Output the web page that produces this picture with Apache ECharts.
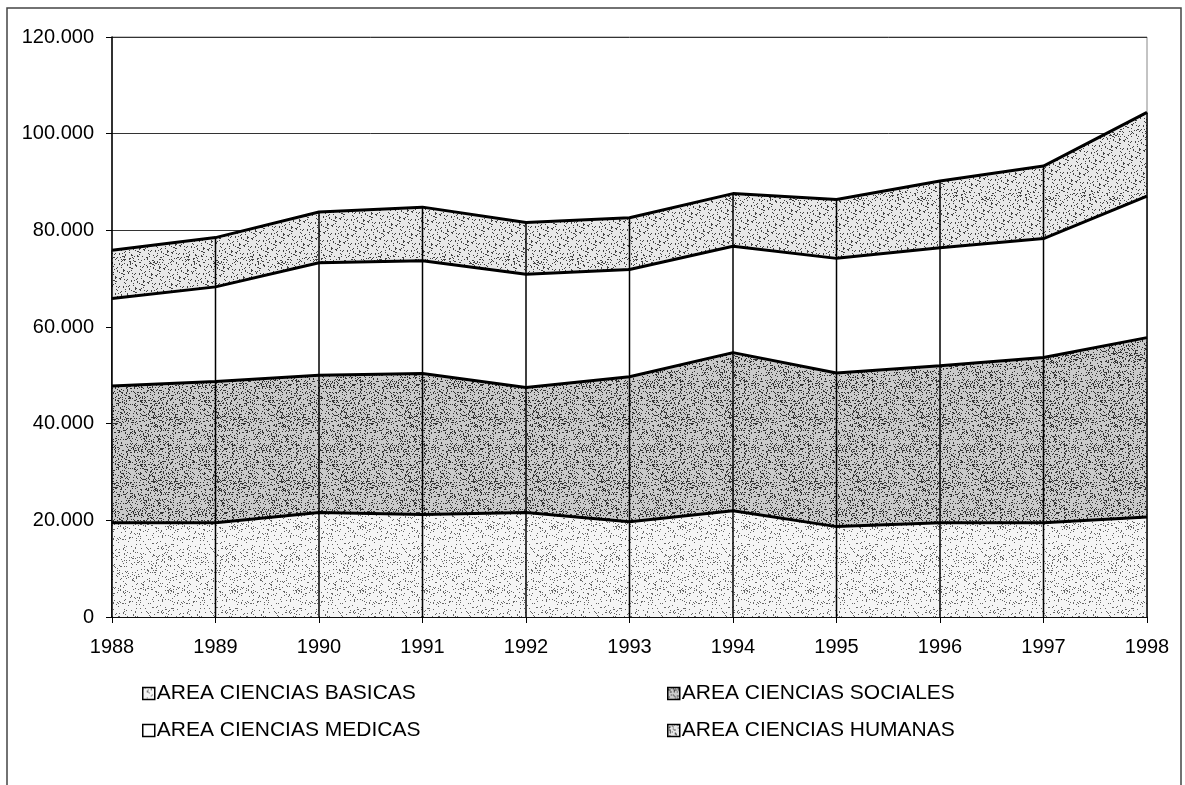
<!DOCTYPE html>
<html>
<head>
<meta charset="utf-8">
<script src="https://cdn.jsdelivr.net/npm/echarts@6/dist/echarts.min.js"></script>
<style>
  html, body { margin: 0; padding: 0; background: #fff; }
  #chart { width: 1185px; height: 785px; }
</style>
</head>
<body>
<div id="chart"></div>
<script>
// años
const years = ['1988', '1989', '1990', '1991', '1992', '1993', '1994', '1995', '1996', '1997', '1998']
// valores por area
const basicas = [19500, 19500, 21600, 21200, 21600, 19700, 22000, 18700, 19500, 19500, 20700]
const sociales = [28300, 29200, 28400, 29200, 25900, 30000, 32700, 31800, 32500, 34200, 37100]
const medicas = [18100, 19600, 23300, 23300, 23400, 22200, 22000, 23700, 24400, 24600, 29300]
const humanas = [10000, 10200, 10500, 11100, 10700, 10700, 10900, 12200, 13800, 15000, 17300]
const yTicks = [0, 20000, 40000, 60000, 80000, 100000, 120000]

// total de cada año, para las lineas verticales
const totals = years.map((y, i) => basicas[i] + sociales[i] + medicas[i] + humanas[i])

const font = 'Liberation Sans, Arial, sans-serif'
const fmt = v => String(v).replace(/\B(?=(\d{3})+(?!\d))/g, '.')

// trama punteada (solo estilo de relleno)
function stipple (base, dot, density, seed) {
  const c = document.createElement('canvas')
  c.width = 64
  c.height = 64
  const ctx = c.getContext('2d')
  ctx.fillStyle = base
  ctx.fillRect(0, 0, 64, 64)
  ctx.fillStyle = dot
  let s = seed
  for (let i = 0; i < 64 * 64; i++) {
    s = (s * 1103515245 + 12345) & 0x7fffffff
    if (((s >> 8) % 1000) < density * 1000) ctx.fillRect(i % 64, Math.floor(i / 64), 1, 1)
  }
  return { image: c, repeat: 'repeat' }
}

const fillBasicas = stipple('#f5f5f5', '#666', 0.10, 11)
const fillSociales = stipple('#cacaca', '#333', 0.22, 23)
const fillMedicas = '#ffffff'
const fillHumanas = stipple('#e8e8e8', '#444', 0.15, 37)

function area (name, data, fill, z) {
  return {
    name: name,
    type: 'line',
    stack: 'total',
    data: data,
    z: z,
    symbol: 'none',
    lineStyle: { color: '#000', width: 3 },
    itemStyle: { color: fill, borderColor: '#000', borderWidth: 1.5 },
    areaStyle: { color: fill, opacity: 1 }
  }
}

function legendBlock (names, left) {
  return {
    data: names,
    orient: 'vertical',
    left: left,
    top: 678,
    itemGap: 16,
    itemWidth: 12,
    itemHeight: 12,
    icon: 'rect',
    itemStyle: { borderColor: '#000', borderWidth: 1.5 },
    textStyle: { fontFamily: font, fontSize: 21, color: '#000', padding: [0, 0, 0, -3] }
  }
}

const chart = echarts.init(document.getElementById('chart'))
chart.setOption({
  animation: false,
  backgroundColor: '#fff',
  textStyle: { fontFamily: font },
  graphic: [{
    type: 'rect',
    shape: { x: 7, y: 8, width: 1174, height: 800 },
    style: { fill: 'none', stroke: '#444', lineWidth: 1.5 },
    silent: true
  }],
  grid: {
    left: 112,
    right: 38,
    top: 37,
    bottom: 168,
    show: true,
    borderColor: '#888',
    borderWidth: 1
  },
  legend: [
    legendBlock(['AREA CIENCIAS BASICAS', 'AREA CIENCIAS MEDICAS'], 137),
    legendBlock(['AREA CIENCIAS SOCIALES', 'AREA CIENCIAS HUMANAS'], 662)
  ],
  xAxis: {
    type: 'category',
    data: years,
    boundaryGap: false,
    axisLine: { lineStyle: { color: '#000', width: 1.5 } },
    axisTick: { show: true, length: 6, lineStyle: { color: '#000' } },
    axisLabel: { color: '#000', fontSize: 20, fontFamily: font, margin: 20 },
    splitLine: { show: false }
  },
  yAxis: {
    type: 'value',
    min: yTicks[0],
    max: yTicks[yTicks.length - 1],
    interval: yTicks[1] - yTicks[0],
    axisLine: { show: true, lineStyle: { color: '#000', width: 1.5 } },
    axisTick: { show: true, length: 6, lineStyle: { color: '#000' } },
    axisLabel: { color: '#000', fontSize: 20, fontFamily: font, margin: 18, formatter: fmt },
    splitLine: { show: true, lineStyle: { color: '#333', width: 1 } }
  },
  series: [
    area('AREA CIENCIAS BASICAS', basicas, fillBasicas, 6),
    area('AREA CIENCIAS SOCIALES', sociales, fillSociales, 5),
    area('AREA CIENCIAS MEDICAS', medicas, fillMedicas, 4),
    area('AREA CIENCIAS HUMANAS', humanas, fillHumanas, 3),
    {
      name: 'lineas',
      type: 'bar',
      data: totals,
      barWidth: 1.5,
      z: 10,
      silent: true,
      itemStyle: { color: '#000' }
    }
  ]
})
</script>
</body>
</html>
